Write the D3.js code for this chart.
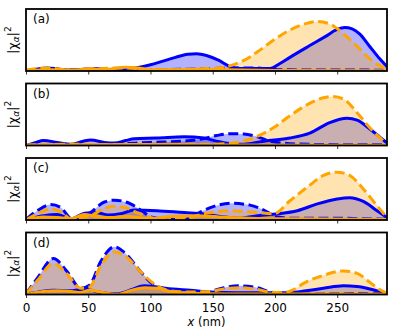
<!DOCTYPE html>
<html>
<head>
<meta charset="utf-8">
<script src="https://cdn.jsdelivr.net/npm/d3@7"></script>
<style>
  body { margin: 0; background: #fff; }
  svg text { font-family: "DejaVu Sans", sans-serif; }
</style>
</head>
<body>
<svg id="chart" width="399" height="333"></svg>
<script>
// x positions in nm, values as fraction of panel height
var panelLabels = ["(a)", "(b)", "(c)", "(d)"];
var xTicks = [0, 50, 100, 150, 200, 250];

var aBlueSolid = [[0,0],[8,0.03],[17,0.05],[27,0.03],[36,0.015],[46,0.03],[56,0.04],[66,0.025],[76,0.02],[88,0.05],[100,0.1],[110,0.16],[120,0.22],[130,0.27],[137,0.28],[145,0.25],[155,0.17],[163,0.08],[172,0.04],[185,0.04],[196,0.04],[204,0.12],[212,0.22],[228,0.41],[240,0.55],[250,0.67],[256,0.70],[262,0.68],[268,0.6],[276,0.4],[284,0.2],[290,0.07]];
var aBlueDashed = [[0,0.01],[30,0.02],[60,0.015],[100,0.02],[130,0.03],[150,0.04],[165,0.05],[180,0.05],[192,0.04],[205,0.02],[240,0.015],[270,0.015],[290,0.01]];
var aOrangeDashed = [[0,0.01],[10,0.04],[18,0.05],[28,0.03],[38,0.01],[50,0.02],[62,0.04],[75,0.05],[88,0.04],[100,0.02],[115,0.02],[130,0.03],[145,0.04],[155,0.05],[165,0.09],[175,0.17],[186,0.31],[199,0.5],[212,0.66],[224,0.76],[234,0.8],[244,0.76],[255,0.6],[266,0.4],[276,0.2],[284,0.09],[290,0.03]];
var aOrangeSolid = [[0,0.01],[20,0.02],[40,0.015],[52,0.04],[62,0.02],[80,0.06],[90,0.05],[100,0.02],[120,0.02],[140,0.03],[160,0.02],[200,0.01],[290,0.005]];

var bBlueSolid = [[0,0],[8,0.05],[14,0.08],[25,0.05],[36,0.02],[46,0.07],[52,0.09],[63,0.05],[71,0.04],[80,0.08],[87,0.11],[105,0.12],[127,0.14],[143,0.12],[153,0.07],[164,0.03],[175,0.02],[191,0.07],[212,0.12],[228,0.2],[244,0.37],[258,0.44],[266,0.41],[276,0.27],[284,0.14],[290,0.04]];
var bBlueDashed = [[0,0.005],[50,0.01],[70,0.02],[100,0.05],[127,0.07],[140,0.1],[153,0.16],[164,0.19],[175,0.185],[186,0.14],[196,0.07],[212,0.03],[240,0.015],[290,0.01]];
var bOrangeDashed = [[0,0.01],[40,0.02],[80,0.01],[120,0.02],[150,0.02],[169,0.05],[186,0.15],[199,0.29],[212,0.48],[226,0.66],[239,0.77],[246,0.79],[255,0.75],[266,0.53],[276,0.29],[284,0.13],[290,0.03]];
var bOrangeSolid = [[0,0.005],[40,0.01],[100,0.015],[150,0.01],[290,0.005]];

var cBlueSolid = [[0,0],[14,0.07],[25,0.09],[36,0.02],[47,0.11],[56,0.12],[66,0.08],[76,0.1],[87,0.16],[105,0.15],[127,0.12],[143,0.1],[159,0.05],[172,0.03],[186,0.07],[202,0.1],[218,0.15],[234,0.26],[250,0.34],[260,0.36],[271,0.3],[282,0.15],[290,0.04]];
var cBlueDashed = [[0,0.01],[9,0.15],[20,0.25],[28,0.2],[36,0.03],[44,0.01],[52,0.12],[63,0.29],[71,0.32],[84,0.26],[95,0.12],[100,0.05],[111,0.015],[127,0.005],[137,0.1],[151,0.22],[164,0.27],[180,0.24],[191,0.16],[202,0.05],[212,0.03],[250,0.03],[270,0.02],[290,0.01]];
var cOrangeDashed = [[0,0],[9,0.1],[20,0.18],[28,0.13],[36,0.02],[52,0.07],[62,0.18],[70,0.22],[78,0.21],[89,0.12],[100,0.04],[111,0.005],[127,0.02],[143,0.1],[164,0.15],[186,0.12],[199,0.1],[212,0.31],[226,0.53],[239,0.72],[250,0.77],[260,0.72],[271,0.5],[282,0.23],[290,0.04]];
var cOrangeSolid = [[0,0],[14,0.05],[25,0.04],[36,0.02],[47,0.09],[56,0.06],[68,0.04],[80,0.06],[90,0.04],[100,0.02],[116,0.06],[137,0.07],[155,0.05],[180,0.03],[220,0.02],[290,0.01]];

var dBlueSolid = [[0,0],[10,0.04],[22,0.07],[35,0.06],[47,0.09],[58,0.04],[73,0.01],[85,0.08],[95,0.14],[105,0.12],[118,0.09],[132,0.07],[148,0.04],[170,0.03],[200,0.03],[212,0.03],[225,0.06],[239,0.1],[255,0.14],[266,0.13],[278,0.08],[290,0.01]];
var dBlueDashed = [[0,0.01],[9,0.26],[22,0.58],[33,0.37],[44,0.1],[51,0.15],[60,0.53],[71,0.77],[81,0.64],[92,0.37],[103,0.15],[116,0.07],[132,0.02],[148,0.05],[159,0.11],[172,0.14],[186,0.11],[196,0.04],[212,0.005],[266,0.015],[290,0.005]];
var dOrangeDashed = [[0,0.01],[9,0.22],[22,0.5],[33,0.33],[44,0.1],[51,0.12],[60,0.46],[71,0.69],[81,0.6],[92,0.37],[103,0.17],[116,0.06],[132,0.04],[148,0.05],[159,0.09],[172,0.11],[186,0.08],[196,0.04],[207,0.03],[215,0.08],[223,0.18],[239,0.31],[255,0.38],[266,0.34],[276,0.2],[284,0.08],[290,0.02]];
var dOrangeSolid = [[0,0],[14,0.05],[25,0.06],[36,0.05],[44,0.03],[51,0.07],[60,0.04],[73,0.0],[85,0.07],[95,0.11],[105,0.1],[116,0.05],[132,0.02],[160,0.01],[290,0.005]];

var panels = [
  [aBlueSolid, aBlueDashed, aOrangeDashed, aOrangeSolid],
  [bBlueSolid, bBlueDashed, bOrangeDashed, bOrangeSolid],
  [cBlueSolid, cBlueDashed, cOrangeDashed, cOrangeSolid],
  [dBlueSolid, dBlueDashed, dOrangeDashed, dOrangeSolid]
];
var styles = [
  {color: "blue", dash: null},
  {color: "blue", dash: "10,4.5"},
  {color: "orange", dash: "10,4.5"},
  {color: "orange", dash: null}
];

var left = 26, right = 387, panelH = 62;
var tops = [9, 83.5, 158, 232.5];

var svg = d3.select("#chart");
var x = d3.scaleLinear().domain([0, 290]).range([left, right]);

tops.forEach(function(top, i) {
  var y = d3.scaleLinear().domain([0, 1]).range([top + panelH, top]);
  var g = svg.append("g");

  g.append("clipPath").attr("id", "clip" + i)
    .append("rect").attr("x", left).attr("y", top).attr("width", right - left).attr("height", panelH);

  var plot = g.append("g").attr("clip-path", "url(#clip" + i + ")");
  var area = d3.area().x(function(d) { return x(d[0]); }).y0(y(0)).y1(function(d) { return y(d[1]); })
    .curve(d3.curveMonotoneX);
  var line = d3.line().x(function(d) { return x(d[0]); }).y(function(d) { return y(d[1]); })
    .curve(d3.curveMonotoneX);

  panels[i].forEach(function(s, k) {
    plot.append("path").attr("d", area(s))
      .attr("fill", styles[k].color).attr("fill-opacity", 0.3);
  });
  panels[i].forEach(function(s, k) {
    plot.append("path").attr("d", line(s))
      .attr("fill", "none").attr("stroke", styles[k].color)
      .attr("stroke-width", 3)
      .attr("stroke-dasharray", styles[k].dash);
  });

  var axis = d3.axisBottom(x).tickValues(xTicks).tickSize(3.5).tickSizeOuter(0);
  if (i < 3) axis.tickFormat("");
  var ax = g.append("g").attr("transform", "translate(0," + (top + panelH) + ")").call(axis);
  ax.select(".domain").remove();
  ax.selectAll(".tick line").attr("stroke", "#000").attr("stroke-width", 0.8);
  ax.selectAll(".tick text").attr("font-size", 12).attr("fill", "#000").attr("dy", "0.95em")
    .attr("font-family", "DejaVu Sans, sans-serif");

  g.append("rect").attr("x", left).attr("y", top).attr("width", right - left).attr("height", panelH)
    .attr("fill", "none").attr("stroke", "#000").attr("stroke-width", 1.8);

  g.append("text").attr("x", left + 7).attr("y", top + 14).attr("font-size", 12)
    .text(panelLabels[i]);

  var yl = g.append("text").attr("transform", "translate(17," + (top + panelH / 2) + ") rotate(-90)")
    .attr("text-anchor", "middle").attr("font-size", 12.5);
  yl.append("tspan").text("|χ");
  yl.append("tspan").attr("font-size", 9).attr("dy", 2).attr("font-style", "italic").text("α");
  yl.append("tspan").attr("dy", -2).text("|");
  yl.append("tspan").attr("font-size", 9).attr("dy", -6).text("2");
});

var xl = svg.append("text").attr("x", (left + right) / 2).attr("y", 326)
  .attr("text-anchor", "middle").attr("font-size", 11.5);
xl.append("tspan").attr("font-style", "italic").text("x");
xl.append("tspan").text(" (nm)");
</script>
</body>
</html>
